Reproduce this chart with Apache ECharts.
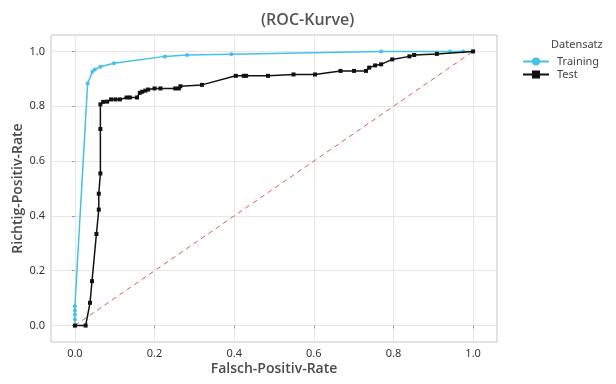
<!DOCTYPE html>
<html><head><meta charset="utf-8">
<script src="https://cdn.jsdelivr.net/npm/echarts@6/dist/echarts.min.js"></script>
<style>html,body{margin:0;padding:0;background:#fff}#c{width:616px;height:384px}</style>
</head><body><div id="c"></div>
<script>
const trainFpr = [0, 0, 0, 0, 0, 0.032, 0.044, 0.05, 0.064, 0.098, 0.226, 0.282, 0.393, 0.769, 0.942, 0.975, 1.0];
const trainTpr = [0, 0.022, 0.040, 0.055, 0.070, 0.883, 0.926, 0.934, 0.944, 0.957, 0.982, 0.987, 0.990, 1.0, 1.0, 1.0, 1.0];
const testFpr = [0, 0.027, 0.038, 0.043, 0.054, 0.060, 0.060, 0.064, 0.064, 0.064, 0.071, 0.081, 0.091, 0.102, 0.113, 0.130, 0.138, 0.156, 0.163, 0.169, 0.177, 0.184, 0.200, 0.215, 0.252, 0.261, 0.265, 0.319, 0.404, 0.424, 0.430, 0.485, 0.549, 0.603, 0.667, 0.701, 0.731, 0.739, 0.754, 0.769, 0.797, 0.840, 0.852, 0.909, 1.0];
const testTpr = [0, 0, 0.083, 0.162, 0.334, 0.423, 0.481, 0.555, 0.717, 0.807, 0.816, 0.817, 0.825, 0.825, 0.825, 0.832, 0.832, 0.832, 0.849, 0.853, 0.857, 0.861, 0.865, 0.865, 0.865, 0.865, 0.873, 0.878, 0.911, 0.911, 0.911, 0.911, 0.916, 0.916, 0.929, 0.929, 0.929, 0.941, 0.949, 0.953, 0.971, 0.982, 0.987, 0.991, 1.0];
const diagonal = [[0, 0], [1, 1]];
const tickValues = [0, 0.2, 0.4, 0.6, 0.8, 1.0];
const seriesNames = ['Training', 'Test'];

const zip = (a, b) => a.map((v, i) => [v, b[i]]);
const font = 'Noto Sans';
const titleFont = 'Open Sans';
const chart = echarts.init(document.getElementById('c'));
const axisCommon = {
  type: 'value', min: -0.06, max: 1.06,
  axisLine: {show: false},
  axisTick: {show: true, length: 3, lineStyle: {color: '#999'}, customValues: tickValues},
  axisLabel: {customValues: tickValues, formatter: v => v.toFixed(1), color: '#333', fontSize: 11, fontFamily: font, margin: 6},
  splitLine: {show: true, lineStyle: {color: '#e6e6e6', width: 1}},
  nameMoveOverlap: false,
  nameTextStyle: {color: '#4a4a4a', fontSize: 14, fontFamily: titleFont, fontWeight: 600}
};
chart.setOption({
  animation: false,
  title: {text: '(ROC-Kurve)', left: 256, top: 7, textStyle: {color: '#555', fontSize: 16, fontWeight: 600, fontFamily: titleFont}},
  grid: {left: 51, right: 119, top: 35, bottom: 42, show: true, borderColor: '#c4c4c4', borderWidth: 1, outerBoundsMode: 'none', containLabel: false},
  xAxis: Object.assign({}, axisCommon, {name: 'Falsch-Positiv-Rate', nameLocation: 'middle', nameGap: 20}),
  yAxis: Object.assign({}, axisCommon, {name: 'Richtig-Positiv-Rate', nameLocation: 'middle', nameGap: 26}),
  legend: {
    data: seriesNames, orient: 'vertical', left: 517, top: 51, itemWidth: 26, itemHeight: 10, itemGap: 2,
    textStyle: {color: '#444', fontSize: 11, fontFamily: font, padding: [0, 0, 0, 3]}
  },
  graphic: [{type: 'text', left: 551, top: 39, style: {text: 'Datensatz', fill: '#444', font: '11px "Noto Sans"'}}],
  series: [
    {name: 'Diagonale', type: 'line', data: diagonal, symbol: 'none', silent: true,
     lineStyle: {color: '#e05a5a', width: 1, type: [5, 4]}, z: 1},
    {name: 'Training', type: 'line', data: zip(trainFpr, trainTpr), symbol: 'circle', symbolSize: 4,
     itemStyle: {color: '#45c0e6'}, lineStyle: {color: '#45c0e6', width: 1.5}, z: 2},
    {name: 'Test', type: 'line', data: zip(testFpr, testTpr), symbol: 'rect', symbolSize: 4,
     itemStyle: {color: '#111'}, lineStyle: {color: '#111', width: 1.5}, z: 3}
  ]
});
</script></body></html>
